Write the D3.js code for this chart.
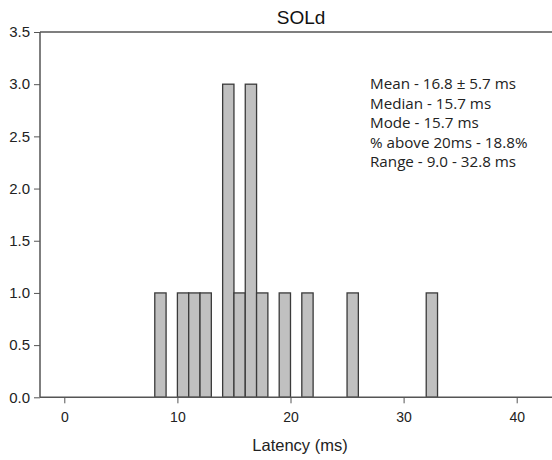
<!DOCTYPE html>
<html>
<head>
<meta charset="utf-8">
<script src="https://cdn.jsdelivr.net/npm/d3@7"></script>
<style>
  html, body { margin: 0; padding: 0; background: #fff; }
  svg { display: block; }
</style>
</head>
<body>
<svg id="chart" width="552" height="460"></svg>
<script>
// Histogram of SOLd latencies, 1 ms bins
const binStarts = [8, 10, 11, 12, 14, 15, 16, 17, 19, 21, 25, 32];
const binCounts = [1, 1, 1, 1, 3, 1, 3, 1, 1, 1, 1, 1];
const binWidth = 1;
const xTicks = [0, 10, 20, 30, 40];
const yTicks = [0, 0.5, 1.0, 1.5, 2.0, 2.5, 3.0, 3.5];
const statLines = [
  "Mean - 16.8 \u00b1 5.7 ms",
  "Median - 15.7 ms",
  "Mode - 15.7 ms",
  "% above 20ms - 18.8%",
  "Range - 9.0 - 32.8 ms"
];

const svg = d3.select("#chart");
const axisColor = "#555";
const labelFont = "Liberation Sans, Arial, sans-serif";
const plotLeft = 40, plotRight = 552, plotTop = 32, plotBottom = 397.3;

const x = d3.scaleLinear().domain([0, 40]).range([64.3, 516.7]);
const y = d3.scaleLinear().domain([0, 3.5]).range([plotBottom, plotTop]);

// bars
svg.append("g")
  .selectAll("rect")
  .data(binStarts.map((s, i) => ({ s, c: binCounts[i] })))
  .join("rect")
  .attr("x", d => x(d.s))
  .attr("y", d => y(d.c))
  .attr("width", d => x(d.s + binWidth) - x(d.s))
  .attr("height", d => y(0) - y(d.c))
  .attr("fill", "#c0c0c0")
  .attr("stroke", "#3a3a3a")
  .attr("stroke-width", 1.3);

// y axis
const yAxis = svg.append("g")
  .attr("transform", `translate(${plotLeft},0)`)
  .call(d3.axisLeft(y).tickValues(yTicks).tickFormat(d3.format(".1f")).tickSize(6).tickPadding(4));
yAxis.select(".domain").remove();
yAxis.selectAll("line").attr("stroke", axisColor).attr("stroke-width", 1);
yAxis.selectAll("text").attr("font-family", labelFont)
  .attr("font-size", 15).attr("fill", "#222");

// x axis
const xAxis = svg.append("g")
  .attr("transform", `translate(0,${plotBottom})`)
  .call(d3.axisBottom(x).tickValues(xTicks).tickFormat(d3.format("d")).tickSize(6).tickPadding(9));
xAxis.select(".domain").remove();
xAxis.selectAll("line").attr("stroke", axisColor).attr("stroke-width", 1);
xAxis.selectAll("text").attr("font-family", labelFont)
  .attr("font-size", 14).attr("fill", "#222");

// frame lines: left, bottom, top
svg.append("line").attr("x1", plotLeft).attr("x2", plotLeft).attr("y1", plotTop).attr("y2", plotBottom)
  .attr("stroke", axisColor).attr("stroke-width", 1.5);
svg.append("line").attr("x1", plotLeft).attr("x2", plotRight).attr("y1", plotBottom).attr("y2", plotBottom)
  .attr("stroke", axisColor).attr("stroke-width", 1.5);
svg.append("line").attr("x1", plotLeft).attr("x2", plotRight).attr("y1", plotTop).attr("y2", plotTop)
  .attr("stroke", axisColor).attr("stroke-width", 1.5);

// title
svg.append("text")
  .attr("x", 301).attr("y", 24)
  .attr("text-anchor", "middle")
  .attr("font-family", labelFont)
  .attr("font-size", 19).attr("fill", "#111")
  .text("SOLd");

// x axis label
svg.append("text")
  .attr("x", 300).attr("y", 451)
  .attr("text-anchor", "middle")
  .attr("font-family", labelFont)
  .attr("font-size", 16.5).attr("fill", "#222")
  .text("Latency (ms)");

// summary statistics
svg.append("g")
  .selectAll("text")
  .data(statLines)
  .join("text")
  .attr("x", 370)
  .attr("y", (d, i) => 89 + i * 19.5)
  .attr("font-family", "Open Sans, sans-serif")
  .attr("font-size", 15.2)
  .attr("fill", "#222")
  .text(d => d);
</script>
</body>
</html>
